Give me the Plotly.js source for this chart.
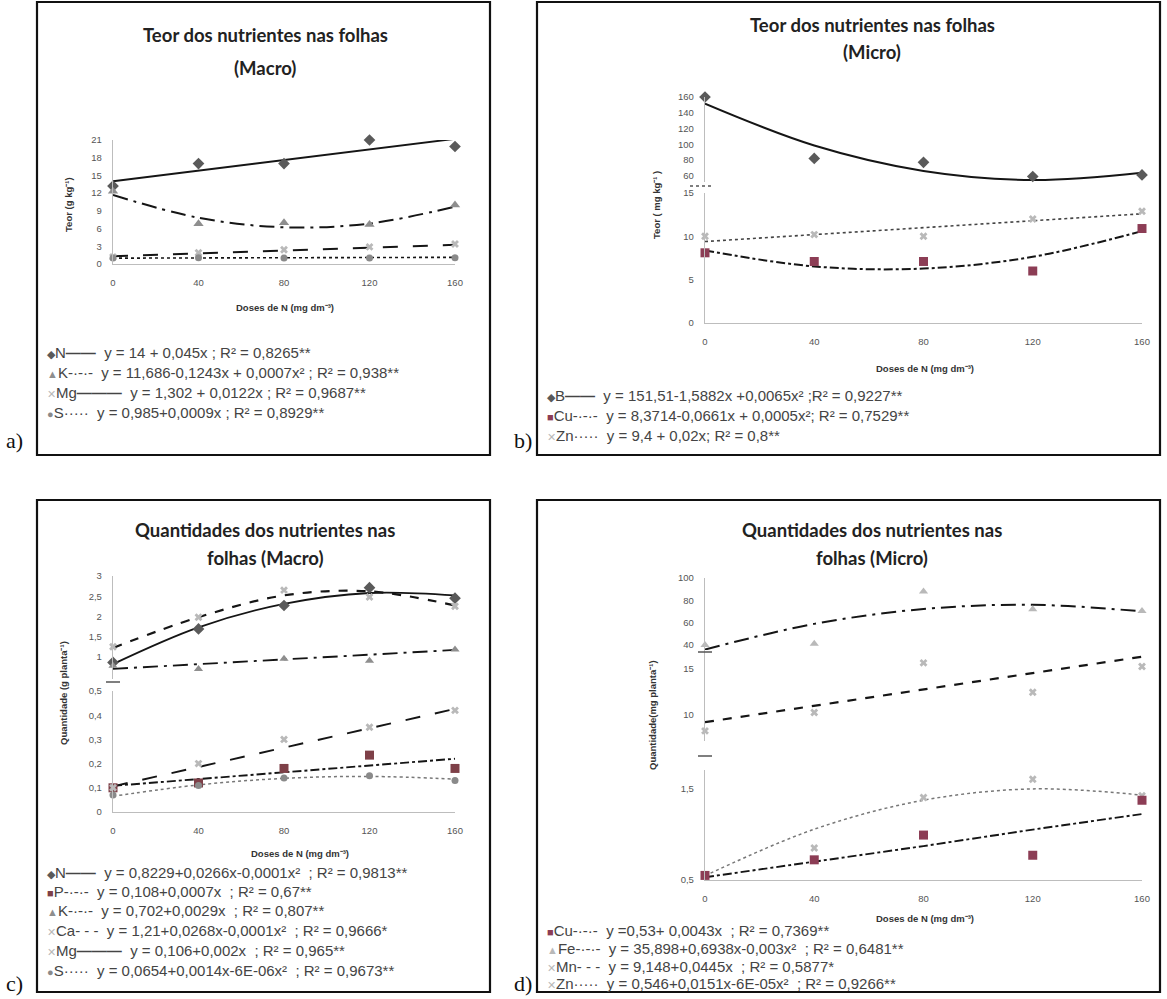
<!DOCTYPE html>
<html>
<head>
<meta charset="utf-8">
<script src="https://cdn.plot.ly/plotly-3.0.1.min.js"></script>
<style>
  html, body { margin: 0; padding: 0; background: #fff; }
  #fig { width: 1167px; height: 999px; }
</style>
</head>
<body>
<div id="fig"></div>
<script>
// ---- shared dose axis ----
const doses = [0, 40, 80, 120, 160];
const doseTickText = ['0', '40', '80', '120', '160'];

// ---- (a) Teor macro, g kg-1 ----
const aN = [13.2, 17.0, 17.0, 21.0, 19.9];
const aK = [12.3, 6.8, 7.0, 6.7, 10.0];
const aMg = [1.2, 1.9, 2.4, 2.9, 3.4];
const aS = [1.0, 1.05, 1.0, 1.0, 1.05];
const aNfit = [14.0, 15.8, 17.6, 19.4, 21.2];
const aKfit = [11.69, 7.83, 6.22, 6.85, 9.72];
const aMgfit = [1.30, 1.79, 2.28, 2.77, 3.25];
const aSfit = [0.99, 1.02, 1.06, 1.09, 1.13];
const aTicks = [0, 3, 6, 9, 12, 15, 18, 21];

// ---- (b) Teor micro, mg kg-1 ----
const bB = [160, 82, 77, 59, 61];
const bCu = [8.1, 7.1, 7.1, 6.0, 10.9];
const bZn = [10.0, 10.2, 10.0, 12.0, 12.9];
const bBfit = [151.5, 98.4, 66.1, 54.5, 63.8];
const bCufit = [8.37, 6.53, 6.28, 7.64, 10.6];
const bZnfit = [9.4, 10.2, 11.0, 11.8, 12.6];
const bTicksLow = [0, 5, 10, 15];
const bTicksHigh = [60, 80, 100, 120, 140, 160];

// ---- (c) Quantidade macro, g planta-1 ----
const cN = [0.86, 1.69, 2.27, 2.71, 2.45];
const cP = [0.10, 0.12, 0.18, 0.235, 0.18];
const cK = [0.78, 0.70, 0.95, 0.90, 1.18];
const cCa = [1.25, 1.98, 2.65, 2.48, 2.25];
const cMg = [0.10, 0.20, 0.30, 0.35, 0.42];
const cS = [0.07, 0.11, 0.14, 0.15, 0.13];
const cNfit = [0.82, 1.73, 2.31, 2.58, 2.52];
const cPfit = [0.108, 0.136, 0.164, 0.192, 0.220];
const cKfit = [0.70, 0.82, 0.93, 1.05, 1.17];
const cCafit = [1.22, 1.98, 2.52, 2.62, 2.27];
const cMgfit = [0.106, 0.186, 0.266, 0.346, 0.426];
const cSfit = [0.065, 0.112, 0.139, 0.147, 0.136];
const cTicksLow = [0, 0.1, 0.2, 0.3, 0.4, 0.5];
const cTickTextLow = ['0', '0,1', '0,2', '0,3', '0,4', '0,5'];
const cTicksHigh = [1, 1.5, 2, 2.5, 3];
const cTickTextHigh = ['1', '1,5', '2', '2,5', '3'];

// ---- (d) Quantidade micro, mg planta-1 ----
const dCu = [0.55, 0.72, 0.99, 0.77, 1.37];
const dFe = [40, 41, 88, 72, 70.5];
const dMn = [8.2, 10.2, 15.6, 12.4, 15.2];
const dZn = [0.55, 0.85, 1.40, 1.60, 1.42];
const dCufit = [0.53, 0.70, 0.87, 1.05, 1.22];
const dFefit = [35.9, 58.9, 72.2, 76.0, 70.1];
const dMnfit = [9.15, 10.93, 12.71, 14.49, 16.27];
const dZnfit = [0.546, 1.054, 1.370, 1.494, 1.426];
const dTicksLow = [0.5, 1.5];
const dTickTextLow = ['0,5', '1,5'];
const dTicksMid = [10, 15];
const dTicksHigh = [40, 60, 80, 100];

// ---- page geometry helpers (pixels -> paper fractions) ----
const W = 1167, H = 999;
const fx = p => p / W;
const fy = p => 1 - p / H;

const tickFont = { family: 'Liberation Sans, Arial, sans-serif', size: 9.5, color: '#555' };
const axisLine = '#bdbdbd';

function xAxis(left, right, anchor) {
  return {
    domain: [fx(left), fx(right)], range: [0, 160], anchor: anchor,
    tickvals: doses, ticktext: doseTickText,
    showgrid: false, zeroline: false, showline: true, linecolor: axisLine, linewidth: 1.2,
    ticks: '', tickfont: tickFont, ticklabelstandoff: 9, fixedrange: true
  };
}
function yAxis(bottom, top, range, vals, text, anchor) {
  return {
    domain: [fy(bottom), fy(top)], range: range, anchor: anchor,
    tickvals: vals, ticktext: text || vals.map(String),
    showgrid: false, zeroline: false, showline: true, linecolor: axisLine, linewidth: 1.2,
    ticks: '', tickfont: tickFont, ticklabelstandoff: 8, fixedrange: true
  };
}

const lineCol = '#151515';
function fit(y, xa, ya, dash, width, color, spline) {
  return {
    x: doses, y: y, xaxis: xa, yaxis: ya, mode: 'lines', hoverinfo: 'skip',
    line: { color: color || lineCol, width: width || 1.8, dash: dash, shape: spline ? 'spline' : 'linear', smoothing: 1 },
    showlegend: false
  };
}
function pts(y, xa, ya, symbol, color, size) {
  return {
    x: doses, y: y, xaxis: xa, yaxis: ya, mode: 'markers', cliponaxis: false,
    marker: { symbol: symbol, color: color, size: size || 8, line: { width: 0 } },
    showlegend: false
  };
}

const cDia = '#5a5a5a', cTri = '#8e8e8e', cX = '#b9b9b9', cCirc = '#8a8a8a', cSq = '#8c3d55', cSqC = '#7e4048';

const data = [
  // (a)
  fit(aNfit, 'x', 'y', 'solid', 1.9),
  fit(aKfit, 'x', 'y', 'longdashdot', 2, null, true),
  fit(aMgfit, 'x', 'y', 'longdash', 1.9),
  fit(aSfit, 'x', 'y', 'dot', 1.6),
  pts(aN, 'x', 'y', 'diamond', cDia, 9),
  pts(aK, 'x', 'y', 'triangle-up', cTri, 9),
  pts(aMg, 'x', 'y', 'x', cX, 7),
  pts(aS, 'x', 'y', 'circle', cCirc, 7),
  // (b)
  fit(bBfit, 'x2', 'y3', 'solid', 2, null, true),
  fit(bCufit, 'x2', 'y2', 'dashdot', 2, null, true),
  fit(bZnfit, 'x2', 'y2', 'dot', 1.6, '#444'),
  pts(bB, 'x2', 'y3', 'diamond', cDia, 9),
  pts(bCu, 'x2', 'y2', 'square', cSq, 9),
  pts(bZn, 'x2', 'y2', 'x', cX, 7),
  // (c)
  fit(cNfit, 'x3', 'y5', 'solid', 1.9, null, true),
  fit(cCafit, 'x3', 'y5', 'dash', 2.2, null, true),
  fit(cKfit, 'x3', 'y5', 'longdashdot', 1.9),
  fit(cPfit, 'x3', 'y4', 'dashdot', 1.9),
  fit(cMgfit, 'x3', 'y4', 'longdash', 1.9),
  fit(cSfit, 'x3', 'y4', 'dot', 1.5, '#777', true),
  pts(cN, 'x3', 'y5', 'diamond', cDia, 9),
  pts(cCa, 'x3', 'y5', 'x', cX, 7),
  pts(cK, 'x3', 'y5', 'triangle-up', cTri, 8),
  pts(cP, 'x3', 'y4', 'square', cSqC, 9),
  pts(cMg, 'x3', 'y4', 'x', cX, 7),
  pts(cS, 'x3', 'y4', 'circle', cCirc, 7),
  // (d)
  fit(dFefit, 'x4', 'y8', 'longdashdot', 2, null, true),
  fit(dMnfit, 'x4', 'y7', 'dash', 2.2),
  fit(dCufit, 'x4', 'y6', 'dashdot', 1.9),
  fit(dZnfit, 'x4', 'y6', 'dot', 1.5, '#777', true),
  pts(dFe, 'x4', 'y8', 'triangle-up', cX, 8),
  pts(dMn, 'x4', 'y7', 'x', cX, 7),
  pts(dZn, 'x4', 'y6', 'x', cX, 7),
  pts(dCu, 'x4', 'y6', 'square', cSq, 9)
];

const layout = {
  width: W, height: H,
  margin: { l: 0, r: 0, t: 0, b: 0 },
  paper_bgcolor: '#fff', plot_bgcolor: 'rgba(0,0,0,0)',
  separators: ', ',
  showlegend: false,
  // (a)
  xaxis: xAxis(113, 455, 'y'),
  yaxis: yAxis(264, 140, [0, 21], aTicks, null, 'x'),
  // (b)
  xaxis2: xAxis(705, 1142, 'y2'),
  yaxis2: yAxis(323, 193, [0, 15], bTicksLow, null, 'x2'),
  yaxis3: yAxis(182, 97, [52, 160], bTicksHigh, null, 'x2'),
  // (c)
  xaxis3: xAxis(113, 455, 'y4'),
  yaxis4: yAxis(812, 691, [0, 0.5], cTicksLow, cTickTextLow, 'x3'),
  yaxis5: yAxis(679, 576, [0.45, 3], cTicksHigh, cTickTextHigh, 'x3'),
  // (d)
  xaxis4: xAxis(705, 1142, 'y6'),
  yaxis6: yAxis(880, 770, [0.5, 1.7], dTicksLow, dTickTextLow, 'x4'),
  yaxis7: yAxis(741, 650, [7.1, 17], dTicksMid, null, 'x4'),
  yaxis8: yAxis(650, 578, [35.5, 100], dTicksHigh, null, 'x4'),
  shapes: [],
  annotations: []
};

// panel frames
function frame(l, t, r, b) {
  layout.shapes.push({ type: 'rect', xref: 'paper', yref: 'paper',
    x0: fx(l), x1: fx(r), y0: fy(b), y1: fy(t), line: { color: '#111', width: 2.2 } });
}
frame(37, 2, 490, 455);
frame(537, 2, 1160, 455);
frame(37, 500, 490, 992);
frame(537, 500, 1160, 992);

// axis break marks
function brk(x0, x1, y, dash) {
  layout.shapes.push({ type: 'line', xref: 'paper', yref: 'paper',
    x0: fx(x0), x1: fx(x1), y0: fy(y), y1: fy(y), line: { color: '#555', width: 1.5, dash: dash || 'solid' } });
}
brk(690, 712, 186, 'dot');
brk(106, 120, 682);
brk(698, 712, 652);
brk(698, 712, 756);

function text(str, x, y, opts) {
  layout.annotations.push(Object.assign({
    text: str, xref: 'paper', yref: 'paper', x: fx(x), y: fy(y),
    showarrow: false, xanchor: 'center', yanchor: 'middle',
    font: { family: 'Liberation Sans, Arial, sans-serif', size: 11, color: '#333' }
  }, opts || {}));
}
const titleFont = { family: 'Lato, Open Sans, sans-serif', size: 18.5, color: '#222' };
const axTitleFont = { family: 'Liberation Sans, Arial, sans-serif', size: 9.5, color: '#333' };
const legFont = { family: 'Liberation Sans, Arial, sans-serif', size: 15, color: '#444' };
const refFont = { family: 'Liberation Serif, Times New Roman, serif', size: 22, color: '#111' };

// titles
text('<b>Teor dos nutrientes nas folhas</b>', 265, 35, { font: titleFont });
text('<b>(Macro)</b>', 265, 68, { font: titleFont });
text('<b>Teor dos nutrientes nas folhas</b>', 872, 25, { font: titleFont });
text('<b>(Micro)</b>', 872, 52, { font: titleFont });
text('<b>Quantidades dos nutrientes nas</b>', 265, 530, { font: titleFont });
text('<b>folhas (Macro)</b>', 265, 558, { font: titleFont });
text('<b>Quantidades dos nutrientes nas</b>', 872, 530, { font: titleFont });
text('<b>folhas (Micro)</b>', 872, 558, { font: titleFont });

// axis titles
text('<b>Teor (g kg⁻¹)</b>', 68, 205, { textangle: -90, font: axTitleFont });
text('<b>Doses de N (mg dm⁻³)</b>', 285, 308, { font: axTitleFont });
text('<b>Teor ( mg kg⁻¹ )</b>', 656, 205, { textangle: -90, font: axTitleFont });
text('<b>Doses de N (mg dm⁻³)</b>', 925, 368, { font: axTitleFont });
text('<b>Quantidade (g planta⁻¹)</b>', 63, 693, { textangle: -90, font: axTitleFont });
text('<b>Doses de N (mg dm⁻³)</b>', 300, 853, { font: axTitleFont });
text('<b>Quantidade(mg planta⁻¹)</b>', 652, 715, { textangle: -90, font: axTitleFont });
text('<b>Doses de N (mg dm⁻³)</b>', 925, 918, { font: axTitleFont });

// legend rows with equations
function leg(sym, col, name, sample, eq, x, y) {
  text('<span style="color:' + col + ';font-size:11px">' + sym + '</span>' + name + sample + '  ' + eq, x, y,
    { xanchor: 'left', font: legFont });
}
const sSolid = '<b>——</b>', sDashDot = '-·-·-', sLong = '<b>———</b>', sDot = '·····', sDash = '- - -';
leg('◆', cDia, 'N', sSolid, 'y = 14 + 0,045x ; R² = 0,8265**', 45, 352);
leg('▲', cTri, 'K', sDashDot, 'y = 11,686-0,1243x + 0,0007x² ; R² = 0,938**', 45, 372);
leg('✕', cX, 'Mg', sLong, 'y = 1,302 + 0,0122x ; R² = 0,9687**', 45, 392);
leg('●', cCirc, 'S', sDot, 'y = 0,985+0,0009x ; R² = 0,8929**', 45, 412);

leg('◆', cDia, 'B', sSolid, 'y = 151,51-1,5882x +0,0065x² ;R² = 0,9227**', 545, 395);
leg('■', cSq, 'Cu', sDashDot, 'y = 8,3714-0,0661x + 0,0005x²; R² = 0,7529**', 545, 415);
leg('✕', cX, 'Zn', sDot, 'y = 9,4 + 0,02x; R² = 0,8**', 545, 436);

leg('◆', cDia, 'N', sSolid, 'y = 0,8229+0,0266x-0,0001x²  ; R² = 0,9813**', 45, 872);
leg('■', cSqC, 'P', sDashDot, 'y = 0,108+0,0007x  ; R² = 0,67**', 45, 891);
leg('▲', cTri, 'K', sDashDot, 'y = 0,702+0,0029x  ; R² = 0,807**', 45, 910);
leg('✕', cX, 'Ca', sDash, 'y = 1,21+0,0268x-0,0001x²  ; R² = 0,9666*', 45, 930);
leg('✕', cX, 'Mg', sLong, 'y = 0,106+0,002x  ; R² = 0,965**', 45, 950);
leg('●', cCirc, 'S', sDot, 'y = 0,0654+0,0014x-6E-06x²  ; R² = 0,9673**', 45, 970);

leg('■', cSq, 'Cu', sDashDot, 'y =0,53+ 0,0043x  ; R² = 0,7369**', 545, 930);
leg('▲', cX, 'Fe', sDashDot, 'y = 35,898+0,6938x-0,003x²  ; R² = 0,6481**', 545, 948);
leg('✕', cX, 'Mn', sDash, 'y = 9,148+0,0445x  ; R² = 0,5877*', 545, 966);
leg('✕', cX, 'Zn', sDot, 'y = 0,546+0,0151x-6E-05x²  ; R² = 0,9266**', 545, 983);

// panel letters
text('a)', 4, 441, { xanchor: 'left', font: refFont });
text('b)', 512, 441, { xanchor: 'left', font: refFont });
text('c)', 4, 983, { xanchor: 'left', font: refFont });
text('d)', 512, 983, { xanchor: 'left', font: refFont });

Plotly.newPlot('fig', data, layout, { displayModeBar: false, staticPlot: true });
</script>
</body>
</html>
